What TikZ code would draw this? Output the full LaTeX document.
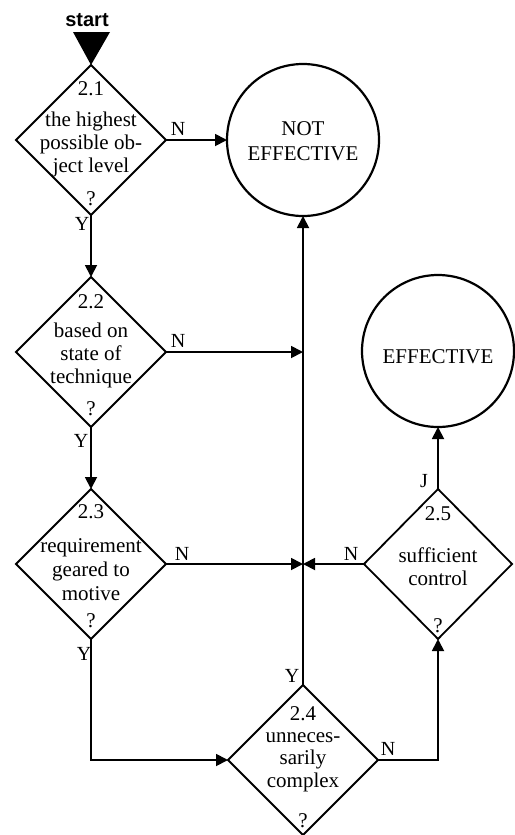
\documentclass[tikz,border=0pt]{standalone}
\usepackage{fontspec}
\setmainfont{Liberation Serif}
\newfontfamily\startfont{Liberation Sans}
\usetikzlibrary{shapes.geometric,arrows.meta,calc}
\begin{document}
\begin{tikzpicture}[x=1pt,y=-1pt,
  decision/.style={draw,line width=1.8pt,shape=diamond,minimum width=150pt,
    minimum height=150pt,inner sep=0pt,outer sep=0pt},
  outcome/.style={draw,line width=2.2pt,circle,minimum size=152pt,
    inner sep=0pt,outer sep=0pt},
  flow/.style={line width=1.8pt,-{Triangle[length=12pt,width=12pt]}},
  txt/.style={font=\fontsize{21}{23}\selectfont,inner sep=0pt,anchor=base},
  lbl/.style={font=\fontsize{20}{22}\selectfont,inner sep=0pt,anchor=base},
]
\useasboundingbox (0,0) rectangle (514,835);

% decision diamonds
\node[decision] (d21) at (91,140) {};
\node[decision] (d22) at (91,352) {};
\node[decision] (d23) at (91,564) {};
\node[decision] (d24) at (303,760) {};
\node[decision,minimum width=148pt] (d25) at (438,564) {};

% outcomes
\node[outcome] (ne) at (303,140) {};
\node[outcome] (eff) at (438,351) {};
\node[txt] (ne-a) at ($(ne)+(0,-5)$) {NOT};
\node[txt] (ne-b) at ($(ne)+(0,20)$) {EFFECTIVE};
\node[txt] (eff-a) at ($(eff)+(0,12)$) {EFFECTIVE};

% start marker
\node[inner sep=0pt,anchor=base,font=\startfont\bfseries\fontsize{20}{22}\selectfont]
  (start) at (87,27) {start};
\coordinate (st1) at (73,32);
\coordinate (st2) at (110,32);
\fill (st1) -- (st2) -- (d21.north) -- cycle;

% texts of 2.1
\node[txt] (d21-n) at ($(d21)+(0,-45)$) {2.1};
\node[txt] (d21-a) at ($(d21)+(0,-14)$) {the highest};
\node[txt] (d21-b) at ($(d21)+(0,9)$) {possible ob-};
\node[txt] (d21-c) at ($(d21)+(0,32)$) {ject level};
\node[txt] (d21-q) at ($(d21)+(0,65)$) {?};

% texts of 2.2
\node[txt] (d22-n) at ($(d22)+(0,-44)$) {2.2};
\node[txt] (d22-a) at ($(d22)+(0,-15)$) {based on};
\node[txt] (d22-b) at ($(d22)+(0,8)$) {state of};
\node[txt] (d22-c) at ($(d22)+(0,31)$) {technique};
\node[txt] (d22-q) at ($(d22)+(0,63)$) {?};

% texts of 2.3
\node[txt] (d23-n) at ($(d23)+(0,-46)$) {2.3};
\node[txt] (d23-a) at ($(d23)+(0,-12)$) {requirement};
\node[txt] (d23-b) at ($(d23)+(0,12)$) {geared to};
\node[txt] (d23-c) at ($(d23)+(0,36)$) {motive};
\node[txt] (d23-q) at ($(d23)+(0,63)$) {?};

% texts of 2.4
\node[txt] (d24-n) at ($(d24)+(0,-40)$) {2.4};
\node[txt] (d24-a) at ($(d24)+(0,-18)$) {unneces-};
\node[txt] (d24-b) at ($(d24)+(0,4.5)$) {sarily};
\node[txt] (d24-c) at ($(d24)+(0,27)$) {complex};
\node[txt] (d24-q) at ($(d24)+(0,67)$) {?};

% texts of 2.5
\node[txt] (d25-n) at ($(d25)+(0,-44)$) {2.5};
\node[txt] (d25-a) at ($(d25)+(0,-2)$) {sufficient};
\node[txt] (d25-b) at ($(d25)+(0,21)$) {control};
\node[txt] (d25-q) at ($(d25)+(0,68)$) {?};

% connectors
\draw[flow] (d21.south) -- (d22.north);
\draw[flow] (d22.south) -- (d23.north);
\draw[flow] (d21.east) -- (ne.west);
\draw[flow] (d22.east) -- (d22.east -| ne.south);
\draw[flow] (d23.east) -- (d23.east -| ne.south);
\draw[flow] (d25.west) -- (d25.west -| ne.south);
\draw[flow] (d24.north) -- (ne.south);
\draw[flow] (d23.south) |- (d24.west);
\draw[flow] (d24.east) -| (d25.south);
\draw[flow] (d25.north) -- (eff.south);

% branch labels
\node[lbl] (l21n) at ($(d21.east)+(12,-5)$) {N};
\node[lbl] (l21y) at ($(d21.south)+(-9,15)$) {Y};
\node[lbl] (l22n) at ($(d22.east)+(12,-5)$) {N};
\node[lbl] (l22y) at ($(d22.south)+(-10,20)$) {Y};
\node[lbl] (l23n) at ($(d23.east)+(16,-4)$) {N};
\node[lbl] (l23y) at ($(d23.south)+(-7,21)$) {Y};
\node[lbl] (l24y) at ($(d24.north)+(-11,-3)$) {Y};
\node[lbl] (l24n) at ($(d24.east)+(10,-5)$) {N};
\node[lbl] (l25j) at ($(d25.north)+(-14,-2)$) {J};
\node[lbl] (l25n) at ($(d25.west)+(-13,-4)$) {N};
\end{tikzpicture}
\end{document}
